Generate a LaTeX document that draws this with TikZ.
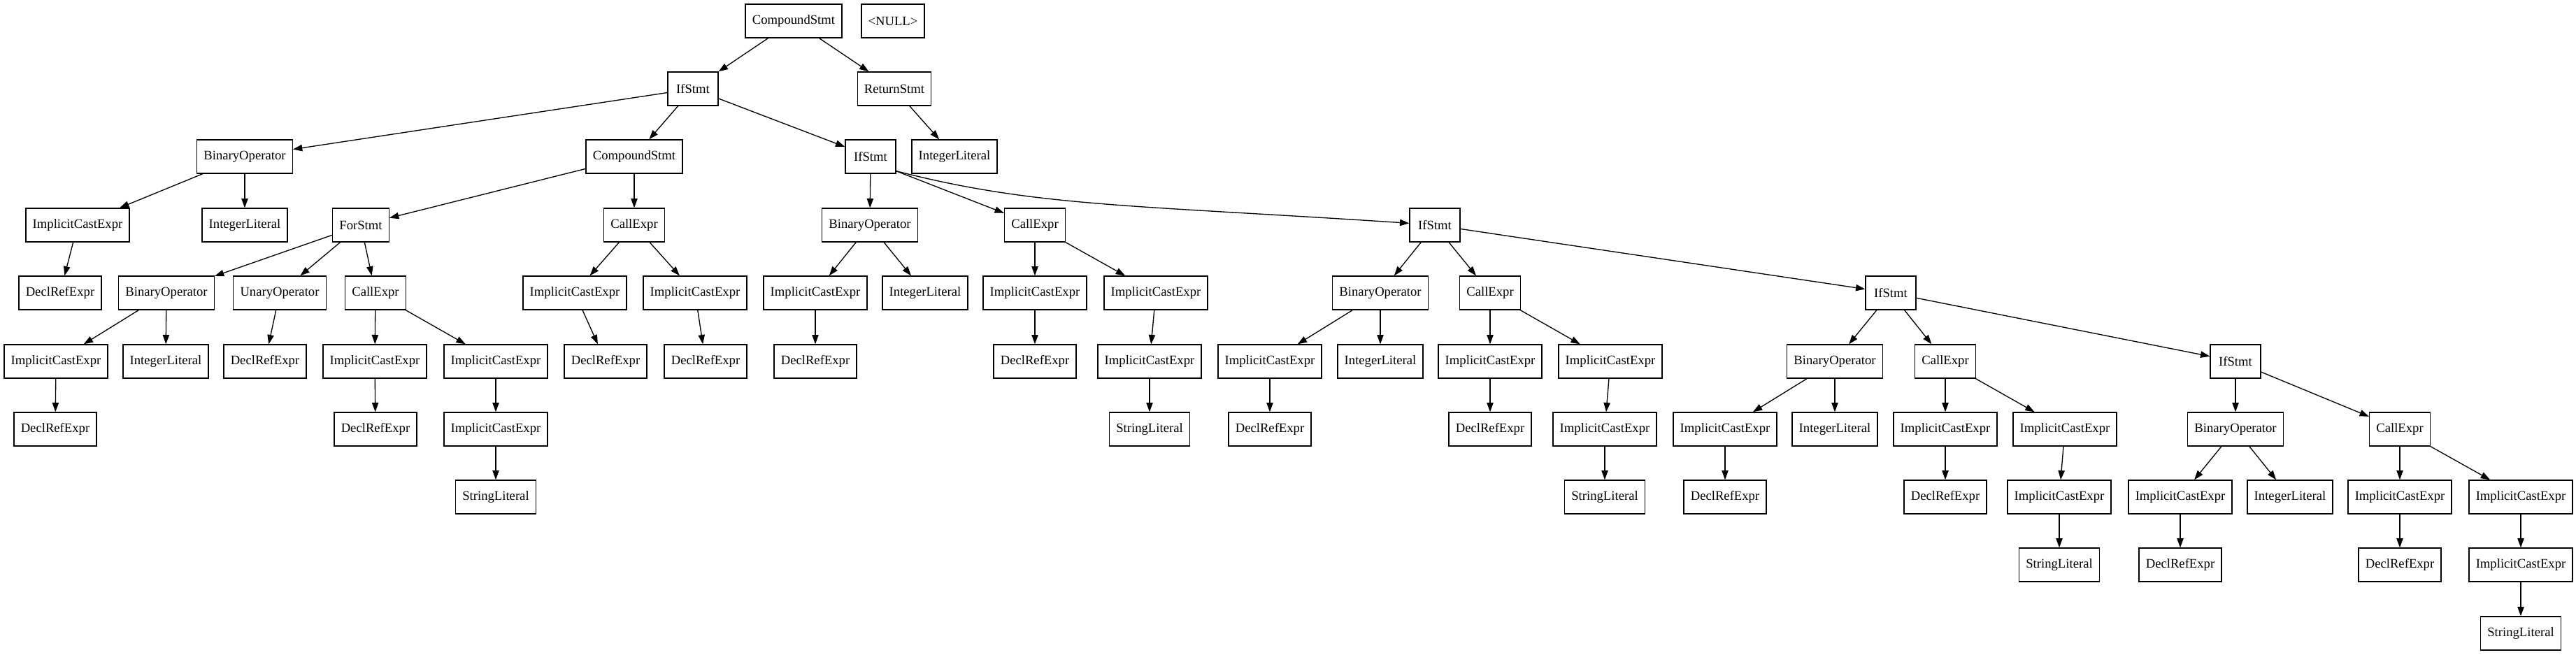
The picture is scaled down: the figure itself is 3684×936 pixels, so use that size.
\documentclass[tikz,border=0pt]{standalone}
\usepackage{fontspec}
\setmainfont{Liberation Serif}
\usetikzlibrary{arrows.meta}

\begin{document}
\begin{tikzpicture}[x=0.75pt, y=-0.75pt,
  box/.style={draw, rectangle, line width=1pt, minimum width=54pt,
    minimum height=36pt, inner xsep=7.3pt, inner ysep=0pt,
    font=\fontsize{14}{16}\selectfont},
  arr/.style={line width=1pt, -{Triangle[length=10pt, width=7pt]}}]
\useasboundingbox (0,0) rectangle (3684,936);

% ---------- ярусы 0--2
\node[box] (cs)   at (1135,30)  {CompoundStmt};
\node[box] (nul)  at (1277,30)  {\textless NULL\textgreater};
\node[box] (if1)  at (991,127)  {IfStmt};
\node[box] (ret)  at (1279,127) {ReturnStmt};
\node[box] (bo1)  at (350,224)  {BinaryOperator};
\node[box] (cs2)  at (907,224)  {CompoundStmt};
\node[box] (if2)  at (1245,224) {IfStmt};
\node[box] (il0)  at (1365,224) {IntegerLiteral};

% ---------- ярус 3
\node[box] (ice1) at (111,322)  {ImplicitCastExpr};
\node[box] (il1)  at (350,322)  {IntegerLiteral};
\node[box] (fors) at (516,322)  {ForStmt};
\node[box] (call1) at (907,322) {CallExpr};
\node[box] (bo2)  at (1244,322) {BinaryOperator};
\node[box] (call2) at (1480,322) {CallExpr};
\node[box] (if3)  at (2052,322) {IfStmt};

% ---------- ярус 4
\node[box] (dre1) at (86,419)   {DeclRefExpr};
\node[box] (bo3)  at (238,419)  {BinaryOperator};
\node[box] (uo)   at (400,419)  {UnaryOperator};
\node[box] (call3) at (537,419) {CallExpr};
\node[box] (ice2) at (822,419)  {ImplicitCastExpr};
\node[box] (ice3) at (994,419)  {ImplicitCastExpr};
\node[box] (ice4) at (1166,419) {ImplicitCastExpr};
\node[box] (il2)  at (1323,419) {IntegerLiteral};
\node[box] (ice5) at (1480,419) {ImplicitCastExpr};
\node[box] (ice6) at (1653,419) {ImplicitCastExpr};
\node[box] (bo4)  at (1974,419) {BinaryOperator};
\node[box] (call4) at (2131,419) {CallExpr};
\node[box] (if4)  at (2704,419) {IfStmt};

% ---------- ярус 5
\node[box] (ice7) at (80,517)   {ImplicitCastExpr};
\node[box] (il3)  at (237,517)  {IntegerLiteral};
\node[box] (dre2) at (379,517)  {DeclRefExpr};
\node[box] (ice8) at (536,517)  {ImplicitCastExpr};
\node[box] (ice9) at (709,517)  {ImplicitCastExpr};
\node[box] (dre3) at (866,517)  {DeclRefExpr};
\node[box] (dre4) at (1009,517) {DeclRefExpr};
\node[box] (dre5) at (1166,517) {DeclRefExpr};
\node[box] (dre6) at (1480,517) {DeclRefExpr};
\node[box] (ice10) at (1644,517) {ImplicitCastExpr};
\node[box] (ice11) at (1816,517) {ImplicitCastExpr};
\node[box] (il4)  at (1974,517) {IntegerLiteral};
\node[box] (ice12) at (2131,517) {ImplicitCastExpr};
\node[box] (ice13) at (2303,517) {ImplicitCastExpr};
\node[box] (bo5)  at (2624,517) {BinaryOperator};
\node[box] (call5) at (2782,517) {CallExpr};
\node[box] (if5)  at (3197,517) {IfStmt};

% ---------- ярус 6
\node[box] (dre7) at (79,614)   {DeclRefExpr};
\node[box] (dre8) at (537,614)  {DeclRefExpr};
\node[box] (ice14) at (709,614) {ImplicitCastExpr};
\node[box] (sl1)  at (1644,614) {StringLiteral};
\node[box] (dre9) at (1816,614) {DeclRefExpr};
\node[box] (dre10) at (2131,614) {DeclRefExpr};
\node[box] (ice15) at (2295,614) {ImplicitCastExpr};
\node[box] (ice16) at (2467,614) {ImplicitCastExpr};
\node[box] (il5)  at (2624,614) {IntegerLiteral};
\node[box] (ice17) at (2782,614) {ImplicitCastExpr};
\node[box] (ice18) at (2953,614) {ImplicitCastExpr};
\node[box] (bo6)  at (3197,614) {BinaryOperator};
\node[box] (call6) at (3432,614) {CallExpr};

% ---------- ярусы 7--9
\node[box] (sl2)  at (709,711)  {StringLiteral};
\node[box] (sl3)  at (2295,711) {StringLiteral};
\node[box] (dre11) at (2467,711) {DeclRefExpr};
\node[box] (dre12) at (2782,711) {DeclRefExpr};
\node[box] (ice19) at (2945,711) {ImplicitCastExpr};
\node[box] (ice20) at (3118,711) {ImplicitCastExpr};
\node[box] (il6)  at (3275,711) {IntegerLiteral};
\node[box] (ice21) at (3432,711) {ImplicitCastExpr};
\node[box] (ice22) at (3605,711) {ImplicitCastExpr};
\node[box] (sl4)  at (2945,808) {StringLiteral};
\node[box] (dre13) at (3118,808) {DeclRefExpr};
\node[box] (dre14) at (3432,808) {DeclRefExpr};
\node[box] (ice23) at (3605,808) {ImplicitCastExpr};
\node[box] (sl5)  at (3605,906) {StringLiteral};

% ---------- рёбра
\foreach \a/\b in {cs/if1, cs/ret, ret/il0, if1/bo1, if1/cs2, if1/if2,
    bo1/ice1, bo1/il1, ice1/dre1, cs2/fors, cs2/call1,
    fors/bo3, fors/uo, fors/call3, bo3/ice7, bo3/il3, ice7/dre7, uo/dre2,
    call3/ice8, call3/ice9, ice8/dre8, ice9/ice14, ice14/sl2,
    call1/ice2, call1/ice3, ice2/dre3, ice3/dre4,
    if2/bo2, bo2/ice4, bo2/il2, ice4/dre5,
    call2/ice5, call2/ice6, ice5/dre6, ice6/ice10, ice10/sl1,
    if3/bo4, if3/call4, if3/if4, bo4/ice11, bo4/il4, ice11/dre9,
    call4/ice12, call4/ice13, ice12/dre10, ice13/ice15, ice15/sl3,
    if4/bo5, if4/call5, if4/if5, bo5/ice16, bo5/il5, ice16/dre11,
    call5/ice17, call5/ice18, ice17/dre12, ice18/ice19, ice19/sl4,
    if5/bo6, if5/call6, bo6/ice20, bo6/il6, ice20/dre13,
    call6/ice21, call6/ice22, ice21/dre14, ice22/ice23, ice23/sl5}
  { \draw[arr] (\a) -- (\b); }
% оба ребра выходят из правого нижнего угла
\draw[arr] ([yshift=3pt]if2.south east) -- (call2);
\draw[arr] ([yshift=3pt]if2.south east) .. controls (1481,296) and (1617,293) .. ([yshift=2pt]if3.west);
\end{tikzpicture}
\end{document}
